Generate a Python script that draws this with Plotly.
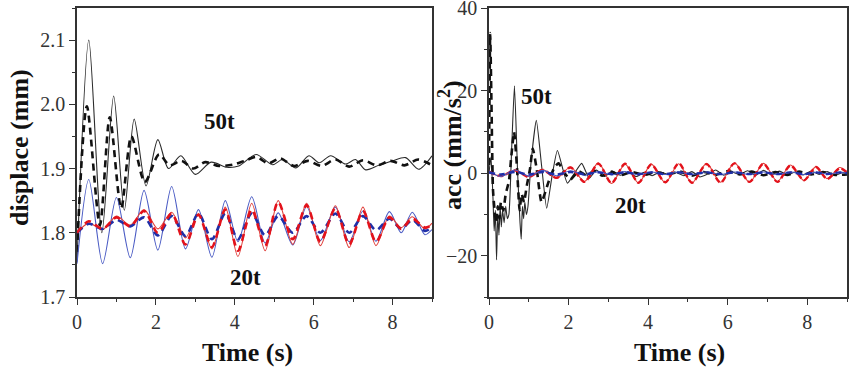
import plotly.graph_objects as go

# ---------------- data: displacement (left panel) ----------------
# extrema times shared by the 20t series (s)
t20 = [0, 0.3, 0.65, 1.0, 1.35, 1.7, 2.05, 2.4, 2.75, 3.08, 3.42, 3.76, 4.08, 4.43,
       4.77, 5.1, 5.47, 5.82, 6.17, 6.55, 6.9, 7.25, 7.58, 7.92, 8.22, 8.5, 8.82, 9.0]
disp_20_blue_solid = [1.752, 1.883, 1.752, 1.855, 1.761, 1.866, 1.773, 1.872, 1.775, 1.836,
                      1.762, 1.850, 1.786, 1.856, 1.784, 1.831, 1.781, 1.841, 1.788, 1.840,
                      1.786, 1.834, 1.787, 1.833, 1.800, 1.832, 1.797, 1.805]
disp_20_red_solid = [1.800, 1.815, 1.805, 1.826, 1.812, 1.836, 1.806, 1.832, 1.792, 1.830,
                     1.775, 1.840, 1.763, 1.846, 1.772, 1.850, 1.782, 1.846, 1.780, 1.842,
                     1.777, 1.840, 1.780, 1.826, 1.808, 1.825, 1.806, 1.815]
disp_20_red_dash = [1.800, 1.818, 1.806, 1.824, 1.810, 1.834, 1.800, 1.830, 1.782, 1.828,
                    1.778, 1.836, 1.772, 1.836, 1.780, 1.848, 1.790, 1.843, 1.786, 1.838,
                    1.782, 1.834, 1.786, 1.824, 1.806, 1.822, 1.808, 1.812]
disp_20_blue_dash = [1.800, 1.814, 1.806, 1.820, 1.810, 1.824, 1.796, 1.826, 1.795, 1.830,
                     1.790, 1.830, 1.790, 1.830, 1.796, 1.826, 1.800, 1.826, 1.800, 1.830,
                     1.800, 1.826, 1.804, 1.822, 1.806, 1.820, 1.803, 1.808]

t50_solid = [0, 0.3, 0.63, 0.93, 1.2, 1.45, 1.75, 2.05, 2.32, 2.63, 3.0, 3.4, 3.8, 4.1,
             4.54, 4.96, 5.21, 5.55, 5.88, 6.14, 6.43, 6.81, 7.06, 7.32, 7.65, 8.0, 8.33,
             8.66, 9.0]
disp_50_solid = [1.755, 2.100, 1.800, 2.013, 1.835, 1.977, 1.873, 1.945, 1.900, 1.920,
                 1.891, 1.910, 1.902, 1.904, 1.922, 1.906, 1.914, 1.901, 1.920, 1.909,
                 1.920, 1.907, 1.914, 1.898, 1.905, 1.912, 1.917, 1.899, 1.920]
t50_dash = [0, 0.25, 0.58, 0.83, 1.12, 1.38, 1.72, 2.08, 2.35, 2.65, 2.95, 3.25, 3.6,
            3.95, 4.25, 4.55, 4.85, 5.15, 5.5, 5.85, 6.2, 6.55, 6.9, 7.25, 7.6, 7.95,
            8.3, 8.65, 9.0]
disp_50_dash = [1.770, 1.997, 1.812, 1.980, 1.838, 1.950, 1.879, 1.922, 1.905, 1.912,
                1.900, 1.910, 1.904, 1.906, 1.912, 1.918, 1.908, 1.916, 1.904, 1.912,
                1.904, 1.914, 1.903, 1.913, 1.905, 1.912, 1.905, 1.914, 1.905]

# ---------------- data: acceleration (right panel) ----------------
acc_t_black_solid = [0, 0.05, 0.1, 0.13, 0.16, 0.19, 0.22, 0.25, 0.28, 0.31, 0.34, 0.38,
                     0.42, 0.46, 0.5, 0.57, 0.64, 0.72, 0.78, 0.81, 0.84, 0.87, 0.9, 0.94,
                     0.98, 1.06, 1.19, 1.32, 1.45, 1.58, 1.72, 1.97, 2.15, 2.33, 2.52, 2.7,
                     2.9, 3.1, 3.3, 3.5, 3.7, 3.9, 4.1, 4.3, 4.5, 4.7, 4.9, 5.1, 5.3, 5.5,
                     5.7, 5.9, 6.1, 6.3, 6.5, 6.7, 6.9, 7.1, 7.3, 7.5, 7.7, 7.9, 8.1, 8.3,
                     8.5, 8.7, 8.9, 9.0]
acc_black_solid = [0, 4, -6, -14, -9, -21, -10, -15, -8, -13, -9, -12,
                   -8, -11, -10, 6, 21.2, 0, -12, -16, -8, -11, -7, -10,
                   -8, 3, 12.8, 2, -8.5, -1, 5.5, -2.4, 0, 2.4, -1.2, 0.8,
                   -0.8, 0.5, -0.5, 0.3, -0.8, 0.2, -0.6, 0.3, -0.3, 0.2, -0.6, 0.4, -0.9, -0.2,
                   0.8, -0.5, 0.3, -0.3, 0.6, -0.5, 0.7, -0.4, 0.5, -0.4, 0.3, -0.4, 0.5, -0.3,
                   0.4, -0.5, 0.2, -0.2]
acc_t_black_dash = [0, 0.03, 0.06, 0.1, 0.14, 0.18, 0.22, 0.26, 0.3, 0.36, 0.42, 0.5,
                    0.56, 0.63, 0.7, 0.77, 0.82, 0.88, 0.95, 1.03, 1.1, 1.2, 1.32, 1.5,
                    1.65, 1.75, 1.9, 2.05, 2.25, 2.45, 2.65, 2.85, 3.05, 3.3, 3.6, 3.9,
                    4.2, 4.5, 4.8, 5.1, 5.4, 5.7, 6.0, 6.3, 6.6, 6.9, 7.2, 7.5, 7.8, 8.1,
                    8.4, 8.7, 9.0]
acc_black_dash = [2, 34, 18, -4, -9, -12, -8, -11, -7, -9, -5, -2,
                  4, 10, 2, -9, -5, -7, -3, 1, 6, 1, -7, -2,
                  1.5, 2.4, 0, -1.5, 0.5, -0.5, 0.6, -0.6, 0.4, -0.5, 0.3, -0.4,
                  0.3, -0.3, 0.4, -0.6, 0.3, -0.4, 0.5, -0.3, 0.4, -0.5, 0.3, -0.4, 0.4, -0.3,
                  0.3, -0.4, -0.3]
acc_red_solid = [0.5, -0.8, 0.8, -0.8, 0.9, -1.2, 1.5, -2.0, 2.5, -2.5,
                 2.2, -2.4, 2.2, -2.3, 2.3, -2.4, 2.4, -2.2, 2.5, -2.2,
                 2.4, -2.0, 2.0, -1.8, 1.6, -1.3, 1.4, 0.0]
acc_red_dash = [0.4, -0.7, 0.7, -0.9, 0.8, -1.1, 1.4, -2.1, 2.3, -2.4,
                2.3, -2.3, 2.1, -2.2, 2.4, -2.3, 2.2, -2.3, 2.4, -2.1,
                2.3, -2.1, 1.9, -1.7, 1.5, -1.4, 1.2, 0.2]
acc_blue_solid = [0.5, -0.8, 0.8, -0.7, 0.7, -0.6, 0.6, -0.5, 0.4, -0.4,
                  0.4, -0.4, 0.3, -0.3, 0.3, -0.3, 0.3, -0.3, 0.3, -0.3,
                  0.3, -0.3, 0.3, -0.3, 0.2, -0.2, 0.2, 0.0]
acc_blue_dash = [0.2, -0.3, 0.3, -0.3, 0.3, -0.3, 0.3, -0.2, 0.2, -0.2,
                 0.2, -0.2, 0.2, -0.2, 0.2, -0.2, 0.2, -0.2, 0.2, -0.2,
                 0.2, -0.2, 0.2, -0.2, 0.2, -0.2, 0.2, 0.0]

x_ticks = [0, 2, 4, 6, 8]
disp_ticks = [1.7, 1.8, 1.9, 2.0, 2.1]
acc_ticks = [-20, 0, 20, 40]

# ---------------- styles ----------------
SERIF = "Liberation Serif, Times New Roman, serif"
BLACK = "#2b2b2b"
BLUE_S = "#4a5bc4"
BLUE_D = "#1f2fa8"
RED_S = "#e0403c"
RED_D = "#e3121b"

W, H = 851, 367
ML, MR, MT, MB = 0, 0, 8, 70
PH = H - MT - MB

fig = go.Figure()

def add(x, y, color, width, dash, xa, ya, smooth=0.8):
    fig.add_trace(go.Scatter(
        x=x, y=y, mode="lines", xaxis=xa, yaxis=ya, showlegend=False,
        line=dict(color=color, width=width, dash=dash, shape="spline", smoothing=smooth),
        hoverinfo="skip"))

# left panel
add(t50_solid, disp_50_solid, BLACK, 1.1, "solid", "x", "y")
add(t50_dash, disp_50_dash, "#111111", 2.6, "7px,5px", "x", "y")
add(t20, disp_20_blue_solid, BLUE_S, 1.1, "solid", "x", "y")
add(t20, disp_20_red_solid, RED_S, 1.1, "solid", "x", "y")
add(t20, disp_20_blue_dash, BLUE_D, 2.6, "7px,5px", "x", "y")
add(t20, disp_20_red_dash, RED_D, 2.6, "7px,5px", "x", "y")

# right panel
add(acc_t_black_solid, acc_black_solid, BLACK, 1.1, "solid", "x2", "y2", 0.5)
add(acc_t_black_dash, acc_black_dash, "#111111", 2.6, "7px,5px", "x2", "y2", 0.5)
add(t20, acc_red_solid, RED_S, 1.1, "solid", "x2", "y2")
add(t20, acc_red_dash, RED_D, 2.4, "6px,3px", "x2", "y2")
add(t20, acc_blue_solid, BLUE_S, 1.1, "solid", "x2", "y2")
add(t20, acc_blue_dash, BLUE_D, 2.4, "6px,4px", "x2", "y2")

axis_common = dict(
    showline=True, linecolor="#333333", linewidth=1.5, mirror=True,
    ticks="outside", ticklen=6, tickwidth=1.3, tickcolor="#333333",
    showgrid=False, zeroline=False, automargin=False, ticklabeloverflow="allow",
    tickfont=dict(family=SERIF, size=20, color="#333333"),
)
minor_common = dict(ticklen=3, ticks="outside", tickcolor="#333333", tickwidth=1.2)

def px_x(p):
    return (p - ML) / (W - ML - MR)

def px_y(p):
    return (H - MB - p) / PH

title_font = dict(family=SERIF, size=26, color="#111111")
label_font = dict(family=SERIF, size=23, color="#111111")

fig.update_layout(
    width=W, height=H,
    margin=dict(l=ML, r=MR, t=MT, b=MB),
    paper_bgcolor="white", plot_bgcolor="white",
    xaxis=dict(domain=[px_x(77), px_x(432)], range=[0, 9], tickvals=x_ticks,
               minor=dict(dtick=1, tick0=0, **minor_common),
               anchor="y", **axis_common),
    yaxis=dict(domain=[0, 1], range=[1.7, 2.15], tickvals=disp_ticks, tickformat=".1f",
               minor=dict(dtick=0.05, tick0=1.7, **minor_common),
               anchor="x", **axis_common),
    xaxis2=dict(domain=[px_x(489), px_x(847)], range=[0, 9], tickvals=x_ticks,
                minor=dict(dtick=1, tick0=0, **minor_common),
                anchor="y2", **axis_common),
    yaxis2=dict(domain=[0, 1], range=[-30, 40.05], tickvals=acc_ticks,
                minor=dict(dtick=10, tick0=0, **minor_common),
                anchor="x2", **axis_common),
    annotations=[
        # axis titles
        dict(x=px_x(247), y=px_y(352), xref="paper", yref="paper", text="<b>Time (s)</b>",
             showarrow=False, font=title_font, xanchor="center", yanchor="middle"),
        dict(x=px_x(679), y=px_y(352), xref="paper", yref="paper", text="<b>Time (s)</b>",
             showarrow=False, font=title_font, xanchor="center", yanchor="middle"),
        dict(x=px_x(19), y=px_y(148), xref="paper", yref="paper", text="<b>displace (mm)</b>",
             showarrow=False, font=title_font, textangle=-90, xanchor="center", yanchor="middle"),
        dict(x=px_x(450), y=px_y(145), xref="paper", yref="paper",
             text="<b>acc (mm/s<sup>2</sup>)</b>",
             showarrow=False, font=title_font, textangle=-90, xanchor="center", yanchor="middle"),
        # series labels
        dict(x=3.61, y=1.973, xref="x", yref="y", text="<b>50t</b>", showarrow=False,
             font=label_font),
        dict(x=4.28, y=1.73, xref="x", yref="y", text="<b>20t</b>", showarrow=False,
             font=label_font),
        dict(x=1.2, y=18.6, xref="x2", yref="y2", text="<b>50t</b>", showarrow=False,
             font=label_font),
        dict(x=3.56, y=-7.7, xref="x2", yref="y2", text="<b>20t</b>", showarrow=False,
             font=label_font),
    ],
)

# remove the browser's default 8px body margin so the figure fills the window exactly
fig.write_html("out.html",
               config={"displayModeBar": False},
               post_script="document.body.style.margin='0';document.body.style.overflow='hidden';")
